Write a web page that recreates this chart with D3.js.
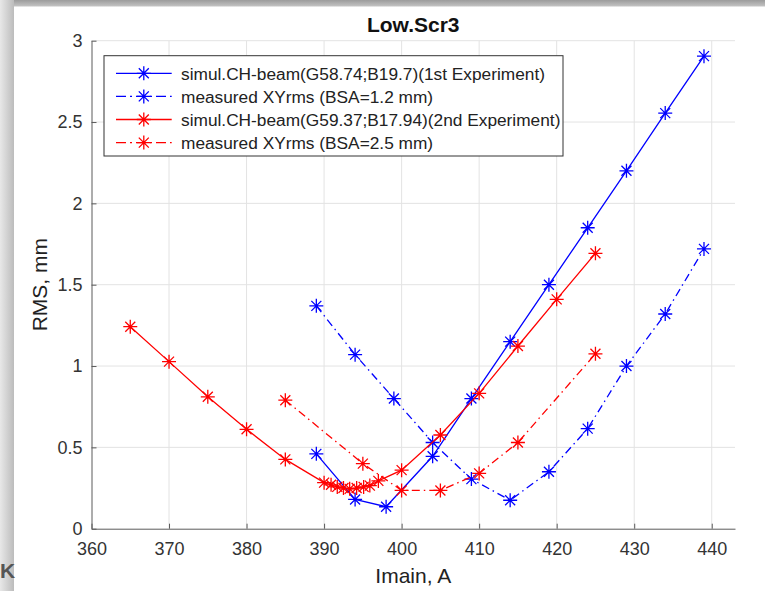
<!DOCTYPE html>
<html>
<head>
<meta charset="utf-8">
<script src="https://cdn.jsdelivr.net/npm/d3@7"></script>
<style>
  body { margin: 0; background: #fff; }
  svg { display: block; font-family: "Liberation Sans", Arial, sans-serif; }
</style>
</head>
<body>
<div id="chart"></div>
<script>
// Chart data.
const title = "Low.Scr3";
const xLabel = "Imain, A";
const yLabel = "RMS, mm";
const xTicks = [360, 370, 380, 390, 400, 410, 420, 430, 440];
const yTicks = [0, 0.5, 1, 1.5, 2, 2.5, 3];

const seriesNames = [
  "simul.CH-beam(G58.74;B19.7)(1st Experiment)",
  "measured XYrms (BSA=1.2 mm)",
  "simul.CH-beam(G59.37;B17.94)(2nd Experiment)",
  "measured XYrms (BSA=2.5 mm)"
];

const xSim1 = [389, 394, 398, 404, 409, 414, 419, 424, 429, 434, 439];
const ySim1 = [0.46, 0.18, 0.135, 0.445, 0.80, 1.15, 1.50, 1.85, 2.20, 2.555, 2.905];

const xMeas1 = [389, 394, 399, 404, 409, 414, 419, 424, 429, 434, 439];
const yMeas1 = [1.37, 1.07, 0.80, 0.53, 0.305, 0.175, 0.35, 0.615, 1.0, 1.32, 1.72];

const xSim2 = [365, 370, 375, 380, 385, 390, 390.9, 391.7, 392.5, 393.3, 394.2, 395.1, 395.9, 397, 400, 405, 410, 415, 420, 425];
const ySim2 = [1.242, 1.027, 0.811, 0.611, 0.426, 0.283, 0.27, 0.257, 0.25, 0.245, 0.25, 0.257, 0.265, 0.294, 0.36, 0.576, 0.832, 1.123, 1.41, 1.693];

const xMeas2 = [385, 395, 400, 405, 410, 415, 425];
const yMeas2 = [0.79, 0.40, 0.235, 0.235, 0.34, 0.53, 1.075];

// Series table for drawing (styles kept here, not in the data arrays).
const series = [
  {name: seriesNames[0], xs: xSim1, ys: ySim1, color: "#0000ff", dash: null},
  {name: seriesNames[1], xs: xMeas1, ys: yMeas1, color: "#0000ff", dash: "8,4,1.5,4"},
  {name: seriesNames[2], xs: xSim2, ys: ySim2, color: "#ff0000", dash: null},
  {name: seriesNames[3], xs: xMeas2, ys: yMeas2, color: "#ff0000", dash: "8,4,1.5,4"}
];

const width = 765;
const height = 591;
const plotLeft = 91.5, plotRight = 735, plotTop = 40.7, plotBottom = 528.7;

const x = d3.scaleLinear().domain([360, 443]).range([plotLeft, plotRight]);
const y = d3.scaleLinear().domain([0, 3]).range([plotBottom, plotTop]);

const svg = d3.create("svg")
  .attr("width", width)
  .attr("height", height)
  .attr("viewBox", [0, 0, width, height]);

d3.select("#chart").append(() => svg.node());

// Screenshot frame: shadow along top and left edges.
const defs = svg.append("defs");
const gTop = defs.append("linearGradient").attr("id", "shTop").attr("x1", 0).attr("y1", 0).attr("x2", 0).attr("y2", 1);
gTop.append("stop").attr("offset", 0).attr("stop-color", "#9c9c9c");
gTop.append("stop").attr("offset", 1).attr("stop-color", "#c4c4c4");
const gLeft = defs.append("linearGradient").attr("id", "shLeft").attr("x1", 0).attr("y1", 0).attr("x2", 1).attr("y2", 0);
gLeft.append("stop").attr("offset", 0).attr("stop-color", "#e8e8e8");
gLeft.append("stop").attr("offset", 1).attr("stop-color", "#bcbcbc");

svg.append("rect").attr("x", 0).attr("y", 0).attr("width", width).attr("height", 6.5).attr("fill", "url(#shTop)");
svg.append("rect").attr("x", 0).attr("y", 0).attr("width", 14).attr("height", height).attr("fill", "url(#shLeft)");
svg.append("text")
  .attr("x", 0).attr("y", 578)
  .attr("font-size", 21).attr("font-weight", "bold")
  .attr("fill", "#555")
  .text("K");

// Grid lines.
svg.append("g")
  .attr("stroke", "#e3e3e3")
  .attr("stroke-width", 1)
  .call(g => g.selectAll("line.gx")
    .data(xTicks.filter(d => d > 360))
    .join("line")
    .attr("x1", d => x(d)).attr("x2", d => x(d))
    .attr("y1", plotTop).attr("y2", plotBottom))
  .call(g => g.selectAll("line.gy")
    .data(yTicks.filter(d => d > 0))
    .join("line")
    .attr("x1", plotLeft).attr("x2", plotRight)
    .attr("y1", d => y(d)).attr("y2", d => y(d)));

// Axes (inner ticks, no box).
svg.append("g")
  .attr("transform", `translate(0,${plotBottom})`)
  .call(d3.axisBottom(x).tickValues(xTicks).tickSizeInner(-5).tickSizeOuter(0).tickPadding(14).tickFormat(d3.format("d")))
  .call(g => g.select(".domain").attr("stroke", "#5a5a5a"))
  .call(g => g.selectAll(".tick line").attr("stroke", "#5a5a5a"))
  .call(g => g.selectAll(".tick text").attr("font-size", 18).attr("fill", "#333").attr("font-family", null));

svg.append("g")
  .attr("transform", `translate(${plotLeft},0)`)
  .call(d3.axisLeft(y).tickValues(yTicks).tickSizeInner(-5).tickSizeOuter(0).tickPadding(9).tickFormat(d => String(d)))
  .call(g => g.select(".domain").attr("stroke", "#5a5a5a"))
  .call(g => g.selectAll(".tick line").attr("stroke", "#5a5a5a"))
  .call(g => g.selectAll(".tick text").attr("font-size", 18).attr("fill", "#333").attr("font-family", null));

// Title and axis labels.
svg.append("text")
  .attr("x", (plotLeft + plotRight) / 2).attr("y", 31.5)
  .attr("text-anchor", "middle")
  .attr("font-size", 21).attr("font-weight", "bold")
  .attr("fill", "#111")
  .text(title);

svg.append("text")
  .attr("x", (plotLeft + plotRight) / 2).attr("y", 583)
  .attr("text-anchor", "middle")
  .attr("font-size", 21)
  .attr("fill", "#222")
  .text(xLabel);

svg.append("text")
  .attr("transform", `translate(46.5,${(plotTop + plotBottom) / 2}) rotate(-90)`)
  .attr("text-anchor", "middle")
  .attr("font-size", 21)
  .attr("fill", "#222")
  .text(yLabel);

// Asterisk marker shape (MATLAB '*').
const star = "M-7,0H7M0,-7V7M-5,-5L5,5M-5,5L5,-5";

const line = d3.line().x(d => x(d[0])).y(d => y(d[1]));

const plot = svg.append("g");
series.forEach(s => {
  const pts = s.xs.map((v, i) => [v, s.ys[i]]);
  plot.append("path")
    .datum(pts)
    .attr("fill", "none")
    .attr("stroke", s.color)
    .attr("stroke-width", 1.3)
    .attr("stroke-dasharray", s.dash)
    .attr("d", line);
  plot.append("g")
    .selectAll("path")
    .data(pts)
    .join("path")
    .attr("transform", d => `translate(${x(d[0])},${y(d[1])})`)
    .attr("d", star)
    .attr("fill", "none")
    .attr("stroke", s.color)
    .attr("stroke-width", 1.3);
});

// Legend.
const lgX = 104, lgY = 55.7, lgW = 459, lgH = 100.3;
const legend = svg.append("g");
legend.append("rect")
  .attr("x", lgX).attr("y", lgY).attr("width", lgW).attr("height", lgH)
  .attr("fill", "#fff").attr("stroke", "#333").attr("stroke-width", 1);

const rows = legend.selectAll("g.row")
  .data(series)
  .join("g")
  .attr("transform", (d, i) => `translate(0,${73.3 + i * 23.1})`);

rows.append("line")
  .attr("x1", 116).attr("x2", 171.7)
  .attr("stroke", d => d.color)
  .attr("stroke-width", 1.3)
  .attr("stroke-dasharray", d => d.dash ? "10,4,2,4" : null);
rows.append("path")
  .attr("transform", "translate(143.8,0)")
  .attr("d", star)
  .attr("fill", "none")
  .attr("stroke", d => d.color)
  .attr("stroke-width", 1.3);
rows.append("text")
  .attr("x", 181)
  .attr("dy", "0.36em")
  .attr("font-size", 17.3)
  .attr("fill", "#222")
  .text(d => d.name);
</script>
</body>
</html>
